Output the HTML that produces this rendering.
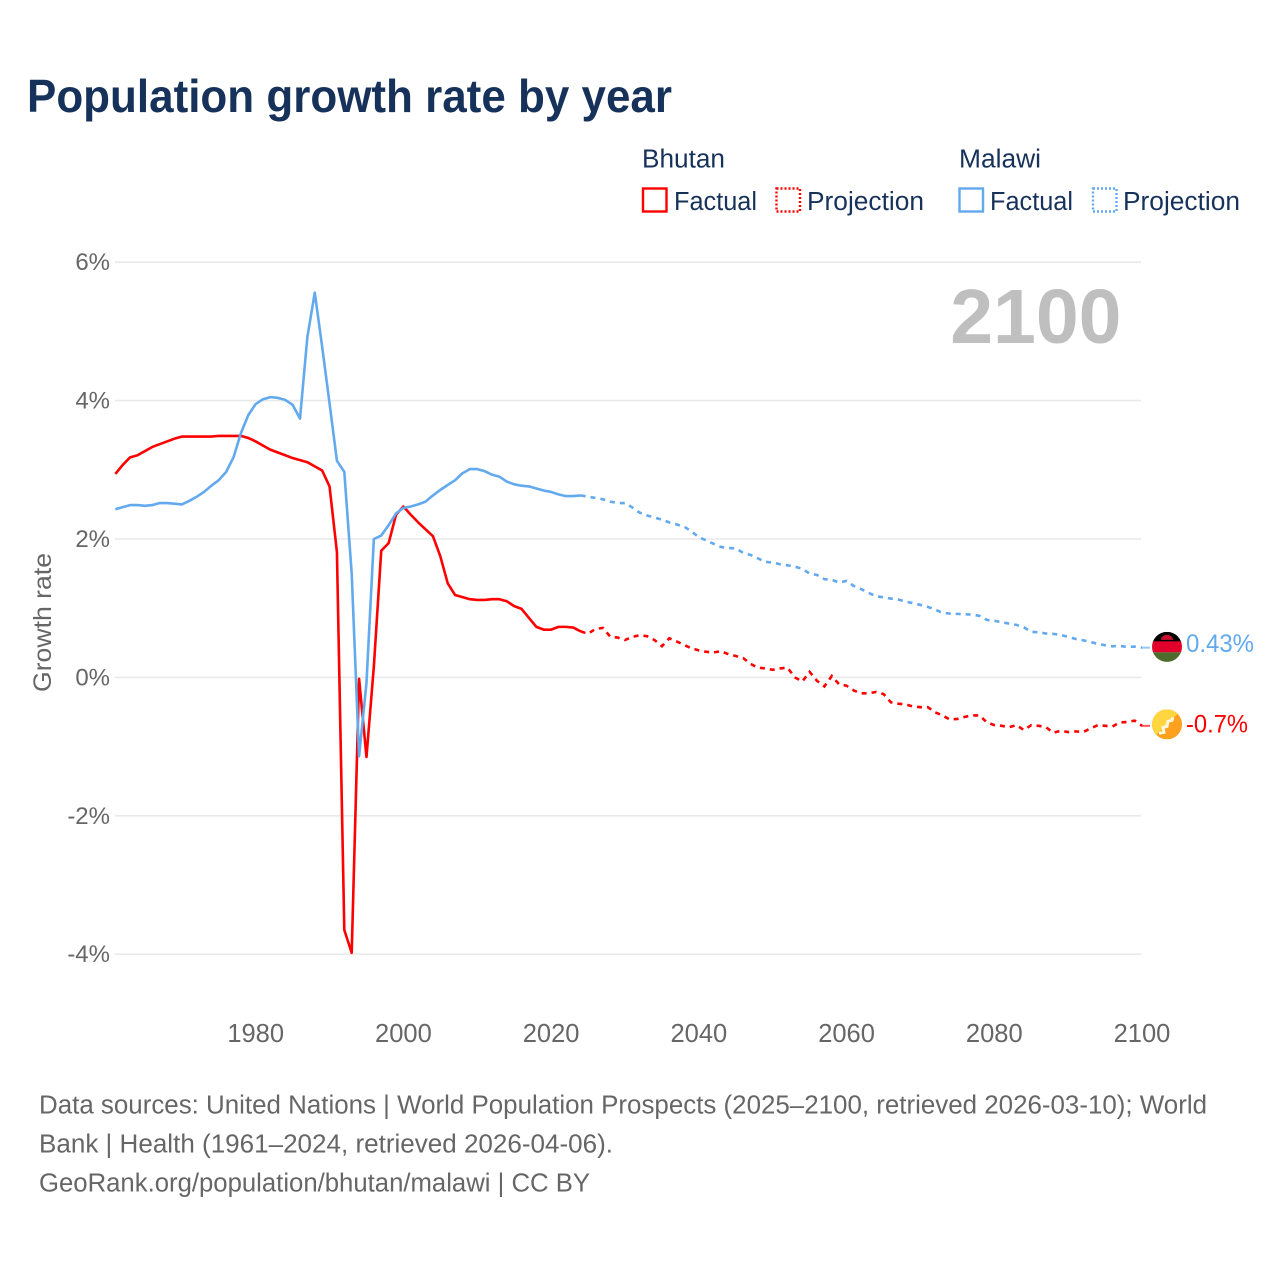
<!DOCTYPE html>
<html lang="en">
<head>
<meta charset="utf-8">
<title>Population growth rate by year</title>
<style>
html,body{margin:0;padding:0;background:#fff;}
svg{display:block;font-family:"Liberation Sans",sans-serif;}
</style>
</head>
<body>
<svg id="chart" width="1280" height="1280" viewBox="0 0 1280 1280" xmlns="http://www.w3.org/2000/svg">
  <rect width="1280" height="1280" fill="#ffffff"/>
  <text x="27" y="112" font-size="46" font-weight="700" fill="#17325a" textLength="645" lengthAdjust="spacingAndGlyphs">Population growth rate by year</text>

  <g font-size="25.5" fill="#17325a">
    <text x="642" y="167.5" textLength="83" lengthAdjust="spacingAndGlyphs">Bhutan</text>
    <rect x="643" y="188.5" width="23.5" height="23" fill="none" stroke="#ff0000" stroke-width="2.4"/>
    <text x="674" y="210" textLength="83" lengthAdjust="spacingAndGlyphs">Factual</text>
    <rect x="776.5" y="188.5" width="23.5" height="23" fill="none" stroke="#ff0000" stroke-width="2.4" stroke-dasharray="2 2"/>
    <text x="807" y="210" textLength="117" lengthAdjust="spacingAndGlyphs">Projection</text>
    <text x="959" y="167.5" textLength="82" lengthAdjust="spacingAndGlyphs">Malawi</text>
    <rect x="959.5" y="188.5" width="23.5" height="23" fill="none" stroke="#63a9ee" stroke-width="2.4"/>
    <text x="990" y="210" textLength="83" lengthAdjust="spacingAndGlyphs">Factual</text>
    <rect x="1093" y="188.5" width="23.5" height="23" fill="none" stroke="#63a9ee" stroke-width="2.4" stroke-dasharray="2 2"/>
    <text x="1123" y="210" textLength="117" lengthAdjust="spacingAndGlyphs">Projection</text>
  </g>

  <g id="grid"></g>
  <g id="yticks" font-size="24" fill="#666666" text-anchor="end"></g>
  <g id="xticks" font-size="25.5" fill="#666666" text-anchor="middle"></g>
  <text transform="translate(51 622.5) rotate(-90)" font-size="25" fill="#666666" text-anchor="middle" textLength="139" lengthAdjust="spacingAndGlyphs">Growth rate</text>
  <text x="1121.5" y="343" font-size="77" font-weight="700" fill="#bfbfbf" text-anchor="end">2100</text>

  <g id="series"></g>

  <g id="flag-malawi">
    <clipPath id="clip-mw"><circle cx="0" cy="0" r="15"/></clipPath>
    <g clip-path="url(#clip-mw)">
      <rect x="-15" y="-15" width="30" height="10" fill="#000000"/>
      <rect x="-15" y="-5.5" width="30" height="11" fill="#e0002b"/>
      <rect x="-15" y="5.5" width="30" height="10" fill="#4c6b2c"/>
      <path d="M-6 -7 A6 5 0 0 1 6 -7 Z" fill="#c8102e"/>
    </g>
  </g>
  <g id="flag-bhutan">
    <clipPath id="clip-bt"><circle cx="0" cy="0" r="15"/></clipPath>
    <g clip-path="url(#clip-bt)">
      <rect x="-15" y="-15" width="30" height="30" fill="#ffa01e"/>
      <path d="M-15 15 L15 -15 L-15 -15 Z" fill="#ffd540"/>
      <path d="M-8 9 L-3 8 L-4 3 L0 2 L1 -3 L5 -4 L6 -7" fill="none" stroke="#fff6e0" stroke-width="3"/>
    </g>
  </g>
  <text id="label-malawi" x="1186" font-size="25" fill="#63a9ee" textLength="68" lengthAdjust="spacingAndGlyphs"></text>
  <text id="label-bhutan" x="1186" font-size="25" fill="#ff0000" textLength="62" lengthAdjust="spacingAndGlyphs"></text>

  <g font-size="25.5" fill="#666666">
    <text x="39" y="1113.5" textLength="1168" lengthAdjust="spacingAndGlyphs">Data sources: United Nations | World Population Prospects (2025–2100, retrieved 2026-03-10); World</text>
    <text x="39" y="1152.5" textLength="574" lengthAdjust="spacingAndGlyphs">Bank | Health (1961–2024, retrieved 2026-04-06).</text>
    <text x="39" y="1191.5" textLength="551" lengthAdjust="spacingAndGlyphs">GeoRank.org/population/bhutan/malawi | CC BY</text>
  </g>
</svg>
<script>
const factualStartYear = 1961;
const projectionStartYear = 2025;
const yTickValues = [6, 4, 2, 0, -2, -4];
const yTickLabels = ["6%", "4%", "2%", "0%", "-2%", "-4%"];
const xTickYears = [1980, 2000, 2020, 2040, 2060, 2080, 2100];
const bhutanFactual = [
  2.94,3.07,3.18,3.21,3.27,3.33,3.37,3.41,3.45,3.48,
  3.48,3.48,3.48,3.48,3.49,3.49,3.49,3.49,3.46,3.41,
  3.35,3.29,3.25,3.21,3.17,3.14,3.11,3.05,2.99,2.76,
  1.81,-3.65,-3.98,-0.02,-1.15,0.16,1.83,1.94,2.35,2.47,
  2.35,2.24,2.14,2.04,1.75,1.36,1.19,1.16,1.13,1.12,
  1.12,1.13,1.13,1.10,1.03,0.99,0.86,0.73,0.69,0.69,
  0.73,0.73,0.72,0.665
];
const malawiFactual = [
  2.43,2.46,2.49,2.49,2.48,2.49,2.52,2.52,2.51,2.50,
  2.55,2.61,2.68,2.77,2.85,2.97,3.18,3.53,3.79,3.95,
  4.02,4.05,4.04,4.01,3.94,3.74,4.92,5.56,4.78,3.96,
  3.13,2.97,1.50,-1.14,-0.08,2.00,2.05,2.20,2.37,2.45,
  2.47,2.50,2.54,2.63,2.71,2.78,2.85,2.95,3.01,3.01,
  2.98,2.93,2.90,2.83,2.79,2.77,2.76,2.73,2.70,2.68,
  2.645,2.62,2.62,2.63
];
const bhutanProjection = [
  0.63,0.70,0.715,0.59,0.576,0.54,
  0.585,0.61,0.595,0.54,0.45,0.565,0.52,0.47,0.42,0.39,
  0.37,0.36,0.38,0.335,0.31,0.28,0.195,0.14,0.13,0.11,
  0.13,0.14,0,-0.06,0.08,-0.05,-0.13,0.02,-0.10,-0.12,
  -0.19,-0.23,-0.23,-0.21,-0.24,-0.36,-0.38,-0.39,-0.42,-0.43,
  -0.43,-0.505,-0.55,-0.61,-0.60,-0.57,-0.55,-0.55,-0.65,-0.69,
  -0.70,-0.72,-0.69,-0.76,-0.69,-0.70,-0.72,-0.80,-0.77,-0.79,
  -0.78,-0.79,-0.74,-0.69,-0.70,-0.71,-0.65,-0.645,-0.625,-0.70
];
const malawiProjection = [
  2.61,2.594,2.575,2.54,2.52,2.52,
  2.455,2.38,2.34,2.31,2.28,2.24,2.21,2.18,2.11,2.025,
  1.98,1.93,1.885,1.87,1.865,1.80,1.77,1.72,1.67,1.66,
  1.635,1.62,1.60,1.57,1.50,1.48,1.42,1.41,1.37,1.395,
  1.32,1.275,1.22,1.173,1.158,1.139,1.125,1.096,1.072,1.048,
  1.019,0.98,0.932,0.923,0.918,0.913,0.908,0.889,0.831,0.817,
  0.798,0.778,0.759,0.725,0.658,0.653,0.634,0.629,0.614,0.585,
  0.556,0.537,0.513,0.484,0.465,0.45,0.455,0.44,0.445,0.43
];
const malawiEndLabel = "0.43%";
const bhutanEndLabel = "-0.7%";

const SVG_NS = "http://www.w3.org/2000/svg";
function xScale(year) { return 1142 - (2100 - year) * 7.386; }
function yScale(value) { return 677.4 - value * 69.2; }

function makeEl(tag, parent) {
  const el = document.createElementNS(SVG_NS, tag);
  parent.appendChild(el);
  return el;
}

const gridGroup = document.getElementById("grid");
const yTickGroup = document.getElementById("yticks");
yTickValues.forEach(function (v, i) {
  const line = makeEl("line", gridGroup);
  
  
  line.setAttribute("x1", 115);
  line.setAttribute("x2", 1141);
  line.setAttribute("y1", yScale(v));
  line.setAttribute("y2", yScale(v));
  line.setAttribute("stroke", "#e9e9e9");
  line.setAttribute("stroke-width", "1.6");
  const label = makeEl("text", yTickGroup);
  
  
  label.setAttribute("x", 110);
  label.setAttribute("y", yScale(v) + 8);
  label.textContent = yTickLabels[i];
});

const xTickGroup = document.getElementById("xticks");
xTickYears.forEach(function (year) {
  const label = makeEl("text", xTickGroup);
  
  
  label.setAttribute("x", xScale(year));
  label.setAttribute("y", 1042);
  label.textContent = String(year);
});

function pathFrom(values, startYear) {
  return values.map(function (v, i) {
    return (i ? "L" : "M") + xScale(startYear + i).toFixed(2) + " " + yScale(v).toFixed(2);
  }).join(" ");
}

const seriesGroup = document.getElementById("series");

const bhutanFactualLine = makeEl("path", seriesGroup);


bhutanFactualLine.setAttribute("d", pathFrom(bhutanFactual, factualStartYear));
bhutanFactualLine.setAttribute("fill", "none");
bhutanFactualLine.setAttribute("stroke", "#ff0000");
bhutanFactualLine.setAttribute("stroke-width", "2.6");
bhutanFactualLine.setAttribute("stroke-linejoin", "round");

const bhutanProjectionLine = makeEl("path", seriesGroup);


bhutanProjectionLine.setAttribute("d", pathFrom([bhutanFactual[bhutanFactual.length - 1]].concat(bhutanProjection), projectionStartYear - 1));
bhutanProjectionLine.setAttribute("fill", "none");
bhutanProjectionLine.setAttribute("stroke", "#ff0000");
bhutanProjectionLine.setAttribute("stroke-width", "2.6");
bhutanProjectionLine.setAttribute("stroke-dasharray", "5 5");

const malawiFactualLine = makeEl("path", seriesGroup);


malawiFactualLine.setAttribute("d", pathFrom(malawiFactual, factualStartYear));
malawiFactualLine.setAttribute("fill", "none");
malawiFactualLine.setAttribute("stroke", "#63a9ee");
malawiFactualLine.setAttribute("stroke-width", "2.6");
malawiFactualLine.setAttribute("stroke-linejoin", "round");

const malawiProjectionLine = makeEl("path", seriesGroup);


malawiProjectionLine.setAttribute("d", pathFrom([malawiFactual[malawiFactual.length - 1]].concat(malawiProjection), projectionStartYear - 1));
malawiProjectionLine.setAttribute("fill", "none");
malawiProjectionLine.setAttribute("stroke", "#63a9ee");
malawiProjectionLine.setAttribute("stroke-width", "2.6");
malawiProjectionLine.setAttribute("stroke-dasharray", "5 5");

const malawiLast = yScale(malawiProjection[malawiProjection.length - 1]);
const bhutanLast = yScale(bhutanProjection[bhutanProjection.length - 1]);

const malawiConnector = makeEl("line", seriesGroup);


malawiConnector.setAttribute("x1", 1141);
malawiConnector.setAttribute("x2", 1150);
malawiConnector.setAttribute("y1", malawiLast);
malawiConnector.setAttribute("y2", malawiLast);
malawiConnector.setAttribute("stroke", "#63a9ee");
malawiConnector.setAttribute("stroke-opacity", "0.65");
malawiConnector.setAttribute("stroke-width", "2");

const bhutanConnector = makeEl("line", seriesGroup);


bhutanConnector.setAttribute("x1", 1141);
bhutanConnector.setAttribute("x2", 1150);
bhutanConnector.setAttribute("y1", bhutanLast);
bhutanConnector.setAttribute("y2", bhutanLast);
bhutanConnector.setAttribute("stroke", "#ff0000");
bhutanConnector.setAttribute("stroke-opacity", "0.65");
bhutanConnector.setAttribute("stroke-width", "2");

document.getElementById("flag-malawi").setAttribute("transform", "translate(1167 " + (malawiLast - 0.8) + ")");
document.getElementById("flag-bhutan").setAttribute("transform", "translate(1167 " + (bhutanLast - 1.5) + ")");
const malawiLabel = document.getElementById("label-malawi");
malawiLabel.setAttribute("y", malawiLast + 4.5);
malawiLabel.textContent = malawiEndLabel;
const bhutanLabel = document.getElementById("label-bhutan");
bhutanLabel.setAttribute("y", bhutanLast + 6.5);
bhutanLabel.textContent = bhutanEndLabel;
</script>
</body>
</html>
